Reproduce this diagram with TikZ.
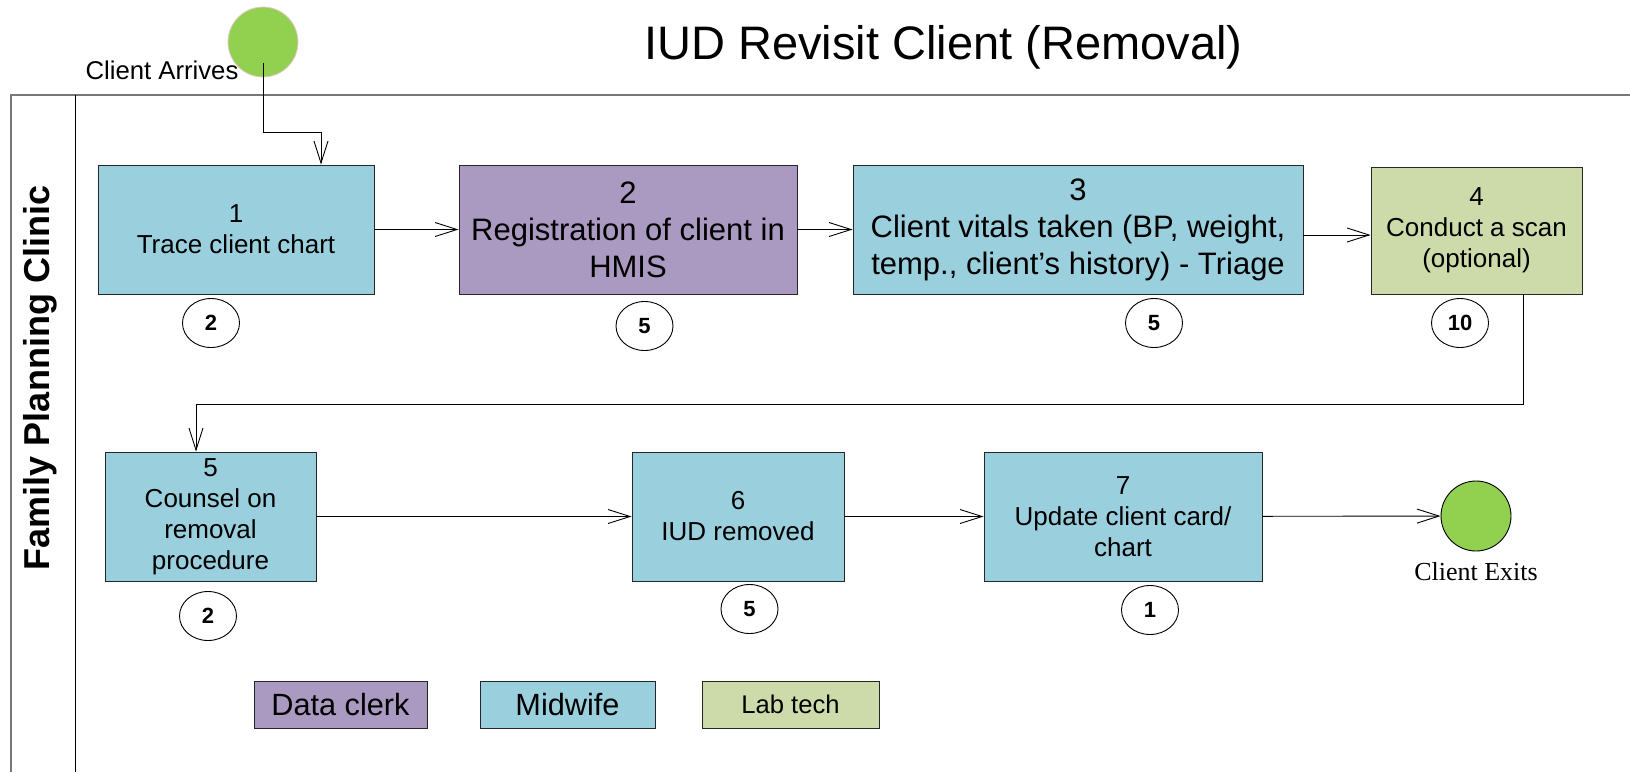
\documentclass[tikz,border=0pt]{standalone}
\usepackage{fontspec}
\setmainfont{Liberation Sans}
\newfontfamily\exitfont{Liberation Serif}
\usetikzlibrary{arrows.meta,shapes.geometric}
\definecolor{midc}{RGB}{154,207,221}
\definecolor{clerkc}{RGB}{170,153,192}
\definecolor{labc}{RGB}{205,219,170}
\definecolor{termc}{RGB}{146,208,80}
\definecolor{poolc}{RGB}{120,120,120}
\definecolor{pinkc}{RGB}{230,200,200}
\tikzset{
  arr/.style={line width=0.9pt, -{Straight Barb[length=22pt,width=14pt,line width=0.9pt]}},
  stepbox/.style={draw=black!85, line width=0.9pt, inner sep=0pt, align=center, font=\fontsize{26}{31}\selectfont},
  numbox/.style={draw=black, line width=0.9pt, ellipse, fill=white, inner sep=0pt, minimum width=57pt, minimum height=49pt, font=\fontsize{22}{24}\selectfont\bfseries},
  legbox/.style={draw=black!85, line width=0.9pt, inner sep=0pt, minimum height=47pt, font=\fontsize{30.7}{34}\selectfont}
}
\begin{document}
\begin{tikzpicture}[x=1pt,y=-1pt]
\useasboundingbox (0,0) rectangle (1630,772);
% pool
\draw[poolc, line width=2pt] (11,772) -- (11,95) -- (1630,95);
\draw[black, line width=0.9pt] (75,95) -- (75,772);
\node[rotate=90, font=\fontsize{36}{40}\selectfont\bfseries] (lane) at (40,378) {Family Planning Clinic};
% title
\node[font=\fontsize{47}{52}\selectfont] (title) at (943.5,47) {IUD Revisit Client (Removal)};
% start
\node[circle, fill=termc, draw=pinkc, line width=0.8pt, minimum size=70pt, inner sep=0pt] (start) at (263,42) {};
\node[anchor=base, font=\fontsize{25.7}{30}\selectfont] (arrlab) at (162,79) {Client Arrives};
\coordinate (a0) at (263,63);
% row 1
\node[stepbox, fill=midc, minimum width=276pt, minimum height=129pt] (box1) at (236,229.5) {1\\Trace client chart};
\node[stepbox, fill=clerkc, minimum width=338pt, minimum height=129pt, font=\fontsize{31}{37}\selectfont] (box2) at (628,229.5) {2\\Registration of client in\\HMIS};
\node[stepbox, fill=midc, minimum width=450pt, minimum height=129pt, font=\fontsize{31}{37}\selectfont] (box3) at (1078,229.5) {3\\Client vitals taken (BP, weight,\\temp., client’s history) - Triage};
\node[stepbox, fill=labc, minimum width=211pt, minimum height=127pt] (box4) at (1476.5,230.5) {4\\Conduct a scan\\(optional)};
% row 2
\node[stepbox, fill=midc, minimum width=211pt, minimum height=129pt] (box5) at (210.5,516.5) {5\\Counsel on\\removal\\procedure};
\node[stepbox, fill=midc, minimum width=212pt, minimum height=129pt] (box6) at (738,516.5) {6\\IUD removed};
\node[stepbox, fill=midc, minimum width=278pt, minimum height=129pt] (box7) at (1123,516.5) {7\\Update client card/\\chart};
\node[circle, fill=termc, draw=black, line width=0.9pt, minimum size=70pt, inner sep=0pt] (endc) at (1476,516) {};
\node[font=\exitfont\fontsize{26}{30}\selectfont] (exitlab) at (1476,572) {Client Exits};
% time circles
\node[numbox] (t1) at (211,323) {2};
\node[numbox] (t2) at (644.5,326) {5};
\node[numbox] (t3) at (1154,323) {5};
\node[numbox] (t4) at (1460,323) {10};
\node[numbox] (t5) at (208,616) {2};
\node[numbox] (t6) at (749.5,609) {5};
\node[numbox] (t7) at (1150,610) {1};
% legend
\node[legbox, fill=clerkc, minimum width=173pt] (lg1) at (340.5,704.5) {Data clerk};
\node[legbox, fill=midc, minimum width=175pt] (lg2) at (567.5,704.5) {Midwife};
\node[legbox, fill=labc, minimum width=177pt, font=\fontsize{25.6}{30}\selectfont] (lg3) at (790.5,704.5) {Lab tech};
% connectors
\draw[arr] (a0) -- ++(0,69) -| ([xshift=85pt]box1.north);
\draw[arr] (box1) -- (box2);
\draw[arr] (box2) -- (box3);
\draw[arr] (box3.east |- 0,235) -- (box4.west |- 0,235);
\draw[arr] ([xshift=46.5pt]box4.south) -- ++(0,110) -| ([xshift=-14.5pt]box5.north);
\draw[arr] (box5) -- (box6);
\draw[arr] (box6) -- (box7);
\draw[arr] (box7) -- (endc);
\end{tikzpicture}
\end{document}
